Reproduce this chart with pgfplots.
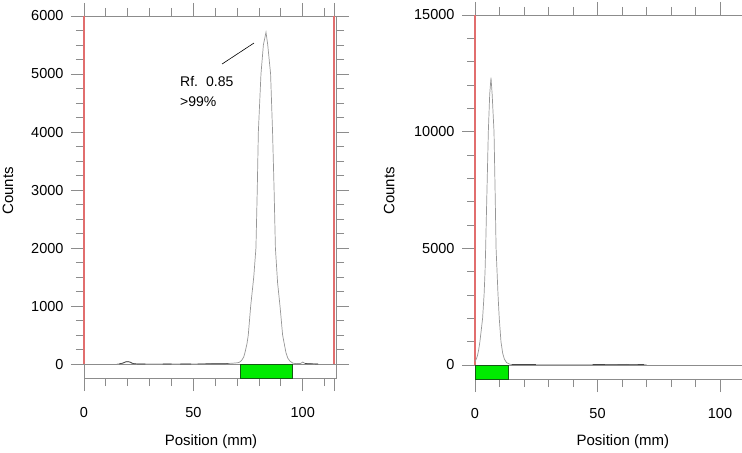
\documentclass[border=0pt]{standalone}
\usepackage{fontspec}
\setmainfont{Liberation Sans}
\usepackage{pgfplots}
\pgfplotsset{compat=1.18}
\definecolor{tickgray}{RGB}{140,140,140}
\definecolor{curvegray}{RGB}{150,150,150}
\definecolor{basedark}{RGB}{70,70,70}
\definecolor{redline}{RGB}{225,110,110}
\definecolor{barfill}{RGB}{0,235,0}
\definecolor{baredge}{RGB}{20,90,20}
\pgfplotsset{
  tlc/.style={
    scale only axis,
    axis line style={tickgray, line width=0.8bp},
    every tick/.style={tickgray, line width=0.8bp},
    tick align=outside,
    major tick length=13bp,
    minor tick length=8bp,
    xtick pos=both,
    xticklabel pos=lower,
    yticklabel pos=left,
    xtick={0,50,100},
    minor xtick={10,20,30,40,60,70,80,90,110},
    scaled y ticks=false,
    scaled x ticks=false,
    /pgf/number format/.cd, 1000 sep={}, assume math mode=true,
    /pgfplots/.cd,
    tick label style={font=\fontsize{14.5bp}{17bp}\selectfont, black},
    xticklabel style={yshift=-13bp},
    yticklabel style={xshift=-4bp},
    label style={font=\fontsize{15bp}{18bp}\selectfont, black},
    clip=false,
  }
}
\begin{document}
\begin{tikzpicture}
\path[use as bounding box] (0,0) rectangle (742bp,453bp);
% ---------------- left panel ----------------
\begin{axis}[tlc,
  at={(84bp,75bp)}, anchor=south west,
  width=252bp, height=362bp,
  xmin=0, xmax=115.2, ymin=-240, ymax=6000,
  ytick pos=both,
  ytick={0,1000,...,6000},
  minor ytick={250,500,...,5750},
  extra x ticks={114.3}, extra x tick labels={},
  extra x tick style={major tick length=13bp},
  xlabel={Position (mm)}, ylabel={Counts},
  xlabel style={at={(axis description cs:0.504,-0.177)}, anchor=center},
  ylabel style={at={(axis description cs:-0.302,0.517)}, anchor=center, rotate=0},
]
% zero line
\addplot[tickgray, line width=0.8bp] coordinates {(0,0) (115.2,0)};
% green window
\addplot[fill=barfill, draw=baredge, line width=0.8bp] coordinates {(71.6,-240) (71.6,0) (95.4,0) (95.4,-240)} -- cycle;
% red limits
\addplot[redline, line width=1.5bp] coordinates {(0,0) (0,6000)};
\addplot[redline, line width=1.5bp] coordinates {(114.3,0) (114.3,6000)};
% trace
\addplot[curvegray, line width=0.7bp] coordinates {
(15,0) (17,5) (18,20) (19,38) (20,42) (21,35) (22,15) (23,5) (25,0) (28,2) (30,0) (35,3) (40,0) (45,3) (50,0) (55,2) (60,5) (65,8) (68,15) (70,22)
(71,30) (72,60) (73,120) (73.6,200) (74.5,350) (75.1,500) (76.2,1000) (77.6,1500) (78.6,2000) (79.2,3000) (79.7,4000) (80.9,5000) (82,5500) (83.2,5720)
(84,5500) (85.3,5000) (86.2,4000) (86.9,3000) (87.5,2000) (88.5,1400) (89.6,1000) (90.8,500) (92.3,200) (93.2,100) (94.2,50) (95.5,15)
(97,8) (99,10) (100,35) (101,12) (103,5) (105,2) (107,0)};
% darker baseline pieces
\addplot[basedark, line width=0.7bp] coordinates {(16,2) (18,20) (19,38) (20,42) (21,35) (22,15) (23,5) (25,2) (28,2)};
\addplot[basedark, line width=0.7bp] coordinates {(36,3) (40,2)};
\addplot[basedark, line width=0.7bp] coordinates {(44,3) (49,2)};
\addplot[basedark, line width=0.7bp] coordinates {(52,3) (60,5) (66,8)};
\addplot[basedark, line width=0.7bp] coordinates {(101,10) (103,5) (107,2)};
% annotation
\addplot[black, line width=0.6bp] coordinates {(63.1,5172) (77.7,5534)};
\node[anchor=base west, inner sep=0pt, font=\fontsize{14bp}{16bp}\selectfont] at (axis cs:43.9,4781) {Rf.\hspace{8bp}0.85};
\node[anchor=base west, inner sep=0pt, font=\fontsize{14bp}{16bp}\selectfont] at (axis cs:43.9,4448) {>99\%};
\end{axis}
% ---------------- right panel ----------------
\begin{axis}[tlc,
  at={(475bp,74bp)}, anchor=south west,
  width=274.4bp, height=364bp,
  xmin=0, xmax=112, ymin=-600, ymax=15000,
  ytick pos=left,
  ytick={0,5000,10000,15000},
  minor ytick={1000,2000,...,14000},
  xlabel={Position (mm)}, ylabel={Counts},
  xlabel style={at={(axis description cs:0.539,-0.173)}, anchor=center},
  ylabel style={at={(axis description cs:-0.313,0.517)}, anchor=center, rotate=0},
]
\addplot[tickgray, line width=0.8bp] coordinates {(0,0) (112,0)};
\addplot[fill=barfill, draw=baredge, line width=0.8bp] coordinates {(0,-600) (0,0) (13.5,0) (13.5,-600)} -- cycle;
\addplot[redline, line width=1.5bp] coordinates {(0,0) (0,15000)};
\addplot[curvegray, line width=0.7bp] coordinates {
(0,150) (0.5,250) (1,400) (1.5,650) (2,1000) (2.5,1450) (3.1,2000) (3.7,3000) (4.1,4000) (4.35,5000) (4.6,6200) (5,8000) (5.44,10000) (6,11600) (6.53,12320)
(7,11600) (7.76,10000) (8.2,7500) (8.6,5000) (9,4000) (9.4,3000) (9.9,2000) (10.6,1000) (11.3,500) (12,250) (12.9,100) (14.3,30) (16,15)
(20,10) (25,12) (30,8) (35,15) (40,8) (45,10) (50,15) (55,12) (60,20) (65,15) (70,10)};
\addplot[basedark, line width=0.6bp] coordinates {(15,20) (25,20)};
\addplot[basedark, line width=0.6bp] coordinates {(48,20) (55,25) (62,30) (69,20)};
\end{axis}
\end{tikzpicture}
\end{document}
